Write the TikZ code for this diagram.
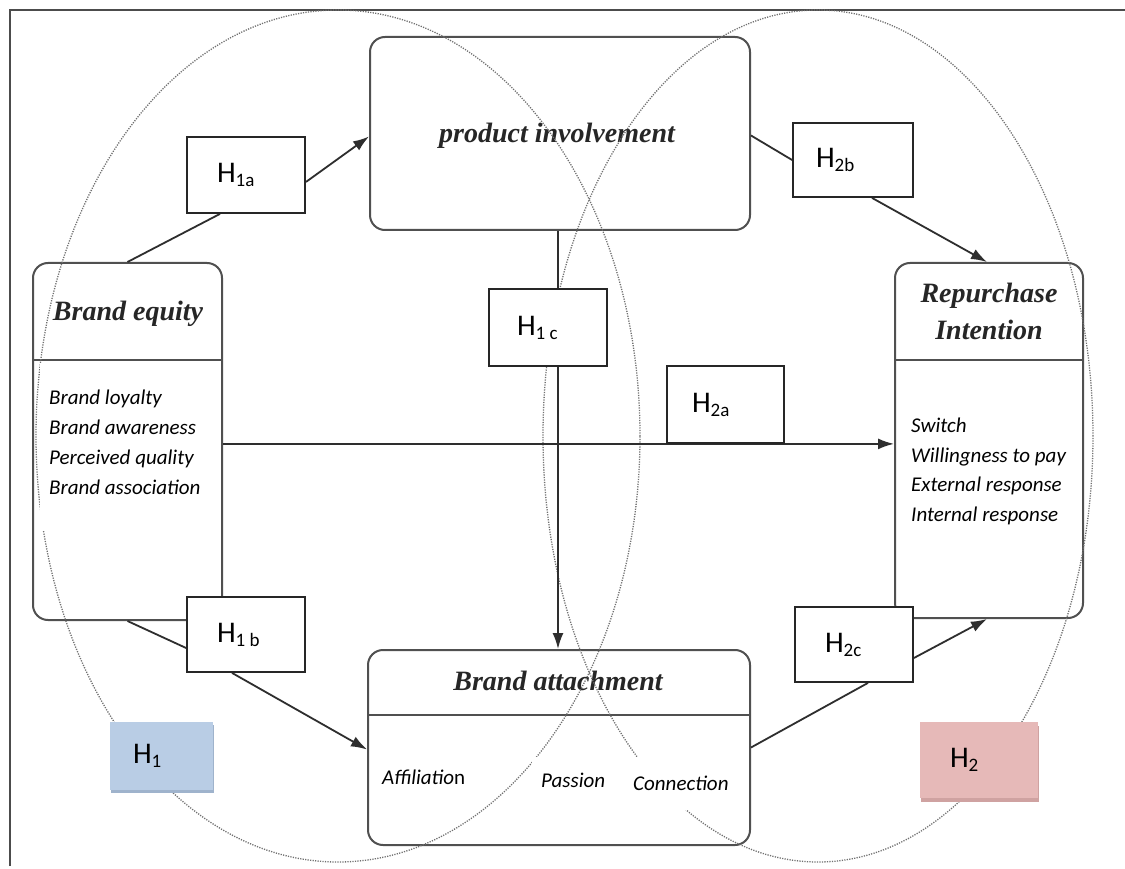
\documentclass[tikz,border=0pt]{standalone}
\usepackage{fontspec}
\setmainfont{Liberation Serif}
\newfontfamily\carl{Carlito}
\usetikzlibrary{arrows.meta,calc,shadows}
\definecolor{boxline}{HTML}{505050}
\definecolor{conline}{HTML}{2E2E2E}
\definecolor{ellline}{HTML}{707070}
\definecolor{titletext}{HTML}{262626}
\definecolor{hblue}{HTML}{B9CDE5}
\definecolor{hblueshadow}{HTML}{9FB3CC}
\definecolor{hpink}{HTML}{E6B9B8}
\definecolor{hpinkshadow}{HTML}{CFA2A1}
\newcommand\hlab[3]{\hbox to #1pt{\hspace{#2pt}\carl\fontsize{30}{30}\selectfont H\raisebox{-4pt}{\fontsize{19}{19}\selectfont #3}\hfil}}
\tikzset{
  rbox/.style={draw=boxline, line width=2pt, rounded corners=15pt, rectangle, inner sep=0pt},
  hbox/.style={draw=black!85, line width=1.8pt, fill=white, rectangle, inner sep=0pt, minimum height=#1},
  colbox/.style={fill=#1, rectangle, inner sep=0pt},
  divider/.style={draw=boxline, line width=2pt},
  titlefont/.style={font=\fontsize{28}{34}\selectfont\bfseries\itshape, text=titletext, inner sep=0pt},
  itemfont/.style={font=\carl\fontsize{21}{30}\selectfont\itshape, inner sep=0pt, anchor=base west},
  conn/.style={draw=conline, line width=1.8pt},
  arr/.style={conn, -{Latex[length=16pt,width=11pt]}},
  ell/.style={draw=ellline, line width=1.3pt, dash pattern=on 1.2pt off 1.3pt},
  frameline/.style={draw=black!70, line width=2pt}
}
\begin{document}
\begin{tikzpicture}[x=1pt,y=-1pt]
\useasboundingbox (0,0) rectangle (1125,869);
\fill[white] (0,0) rectangle (1125,869);
% frame
\draw[frameline] (10,866) -- (10,10) -- (1125,10);

% main boxes
\node[rbox, minimum width=380pt, minimum height=193pt] (pi) at (560,133.5) {};
\node[rbox, minimum width=189pt, minimum height=357pt] (be) at (127.5,441.5) {};
\node[rbox, minimum width=188pt, minimum height=355pt] (ri) at (989,440.5) {};
\node[rbox, minimum width=382pt, minimum height=195pt] (ba) at (559,747.5) {};

% dividers
\draw[divider] (be.west |- 0,360) -- (be.east |- 0,360);
\draw[divider] (ri.west |- 0,360) -- (ri.east |- 0,360);
\draw[divider] (ba.west |- 0,715) -- (ba.east |- 0,715);

% titles
\node[titlefont, anchor=base] (pit) at (557,143) {product involvement};
\node[titlefont, anchor=base] (bet) at (128,320) {Brand equity};
\node[titlefont, anchor=base] (rit1) at (989,302) {Repurchase};
\node[titlefont, anchor=base] (rit2) at (989,339) {Intention};
\node[titlefont, anchor=base] (bat) at (558,690) {Brand attachment};

% ellipses
\draw[ell] (338,436) ellipse [x radius=302pt, y radius=426pt];
\draw[ell] (818,436) ellipse [x radius=275pt, y radius=426pt];

% white patches behind items
\fill[white] (40,364) rectangle (210,531);
\fill[white] (378,757) rectangle (489,800);
\fill[white] (532,757) rectangle (735,810);

% items
\node[itemfont] (be1) at (49,404) {Brand loyalty};
\node[itemfont] (be2) at (49,434) {Brand awareness};
\node[itemfont] (be3) at (49,464) {Perceived quality};
\node[itemfont] (be4) at (49,494) {Brand association};
\node[itemfont] (ri1) at (911,432) {Switch};
\node[itemfont] (ri2) at (911,462) {Willingness to pay};
\node[itemfont] (ri3) at (911,491) {External response};
\node[itemfont] (ri4) at (911,521) {Internal response};
\node[itemfont] (ba1) at (382,784) {Affiliatio\upshape n};
\node[itemfont] (ba2) at (541,787) {Passion};
\node[itemfont] (ba3) at (633,790) {Connection};

% H boxes
\node[hbox=76pt] (h1a) at (246,175) {\hlab{118}{30}{1a}};
\node[hbox=74pt] (h2b) at (853,160) {\hlab{120}{23}{2b}};
\node[hbox=77pt] (h1c) at (548,327.5) {\hlab{118}{28}{1 c}};
\node[hbox=77pt] (h2a) at (725.5,404.5) {\hlab{117}{25}{2a}};
\node[hbox=75pt] (h1b) at (246,634.5) {\hlab{118}{30}{1 b}};
\node[hbox=75pt] (h2c) at (854,644.5) {\hlab{118}{30}{2c}};

% connectors
\draw[conn] (be.north) -- ([xshift=-26pt]h1a.south);
\draw[arr] ([yshift=-7pt]h1a.east) -- ([yshift=-3pt]pi.west);
\draw[conn] ([yshift=-2pt]pi.east) -- (h2b.west);
\draw[arr] ([xshift=19pt]h2b.south) -- ([xshift=-2pt]ri.north);
\draw[conn] ([xshift=-2pt]pi.south) -- ([xshift=-2pt]pi.south |- h1c.north);
\draw[arr] ([xshift=-2pt]pi.south |- h1c.south) -- ([xshift=-2pt]pi.south |- ba.north);
\draw[arr] (be.east |- h2a.south) -- (ri.west |- h2a.south);
\draw[conn] (be.south) -- ([yshift=-13.5pt]h1b.west);
\draw[arr] ([xshift=-14pt]h1b.south) -- ([yshift=-2pt]ba.west);
\draw[conn] (ba.east) -- ([xshift=14pt]h2c.south);
\draw[arr] ([yshift=-13.5pt]h2c.east) -- ([xshift=-2pt]ri.south);

% redraw H boxes over lines
\node[hbox=76pt] at (h1a) {\hlab{118}{30}{1a}};
\node[hbox=74pt] at (h2b) {\hlab{120}{23}{2b}};
\node[hbox=77pt] at (h1c) {\hlab{118}{28}{1 c}};
\node[hbox=77pt] at (h2a) {\hlab{117}{25}{2a}};
\node[hbox=75pt] at (h1b) {\hlab{118}{30}{1 b}};
\node[hbox=75pt] at (h2c) {\hlab{118}{30}{2c}};

% colored hypothesis boxes
\node[colbox=hblue, minimum height=68pt, drop shadow={shadow xshift=1pt, shadow yshift=-3pt, fill=hblueshadow, opacity=1}] (h1) at (161.5,756) {\hlab{103}{23}{1}};
\node[colbox=hpink, minimum height=76pt, drop shadow={shadow xshift=1pt, shadow yshift=-4pt, fill=hpinkshadow, opacity=1}] (h2) at (979,760) {\hlab{118}{30}{2}};
\end{tikzpicture}
\end{document}
